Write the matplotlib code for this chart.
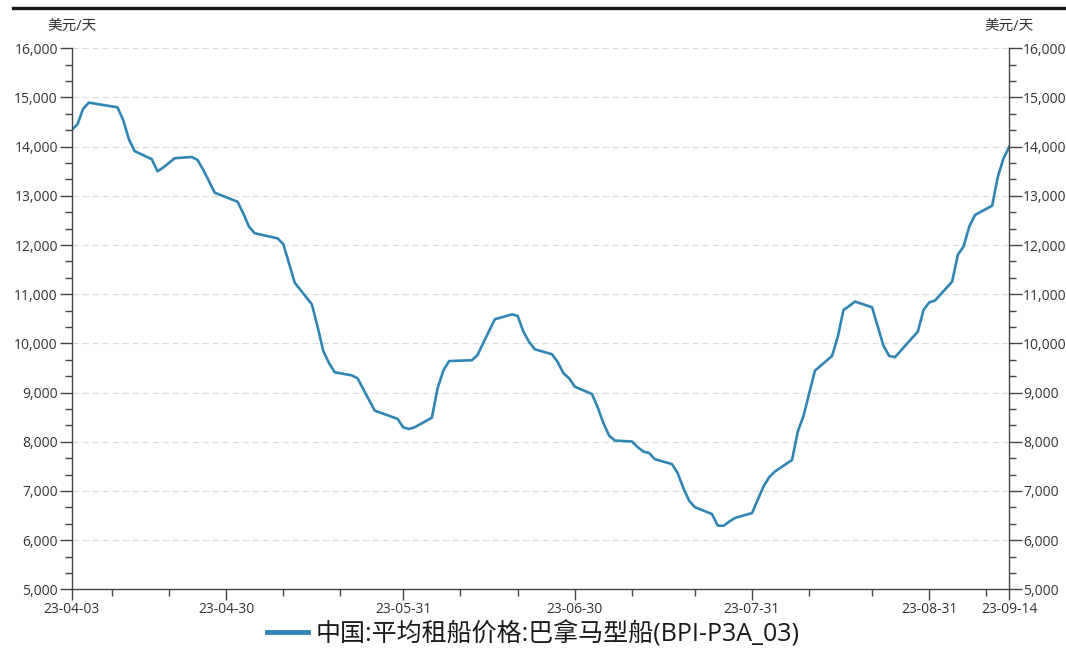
import matplotlib
matplotlib.use("Agg")
import matplotlib.pyplot as plt
import matplotlib.dates as mdates
from matplotlib.lines import Line2D
from matplotlib.ticker import MultipleLocator, FuncFormatter, FixedLocator
import pandas as pd

plt.rcParams['font.family'] = ['Open Sans', 'Noto Sans CJK SC', 'DejaVu Sans']

# BPI-P3A_03 daily hire rate, USD/day
dates = [
    "2023-04-03", "2023-04-04", "2023-04-05", "2023-04-06", "2023-04-11", "2023-04-12",
    "2023-04-13", "2023-04-14", "2023-04-17", "2023-04-18", "2023-04-19", "2023-04-21",
    "2023-04-24", "2023-04-25", "2023-04-26", "2023-04-27", "2023-04-28", "2023-05-02",
    "2023-05-03", "2023-05-04", "2023-05-05", "2023-05-09", "2023-05-10", "2023-05-11",
    "2023-05-12", "2023-05-15", "2023-05-16", "2023-05-17", "2023-05-18", "2023-05-19",
    "2023-05-22", "2023-05-23", "2023-05-24", "2023-05-25", "2023-05-26", "2023-05-30",
    "2023-05-31", "2023-06-01", "2023-06-02", "2023-06-05", "2023-06-06", "2023-06-07",
    "2023-06-08", "2023-06-09", "2023-06-12", "2023-06-13", "2023-06-14", "2023-06-15",
    "2023-06-16", "2023-06-19", "2023-06-20", "2023-06-21", "2023-06-22", "2023-06-23",
    "2023-06-26", "2023-06-27", "2023-06-28", "2023-06-29", "2023-06-30", "2023-07-03",
    "2023-07-04", "2023-07-05", "2023-07-06", "2023-07-07", "2023-07-10", "2023-07-11",
    "2023-07-12", "2023-07-13", "2023-07-14", "2023-07-17", "2023-07-18", "2023-07-19",
    "2023-07-20", "2023-07-21", "2023-07-24", "2023-07-25", "2023-07-26", "2023-07-27",
    "2023-07-28", "2023-07-31", "2023-08-01", "2023-08-02", "2023-08-03", "2023-08-04",
    "2023-08-07", "2023-08-08", "2023-08-09", "2023-08-10", "2023-08-11", "2023-08-14",
    "2023-08-15", "2023-08-16", "2023-08-17", "2023-08-18", "2023-08-21", "2023-08-22",
    "2023-08-23", "2023-08-24", "2023-08-25", "2023-08-29", "2023-08-30", "2023-08-31",
    "2023-09-01", "2023-09-04", "2023-09-05", "2023-09-06", "2023-09-07", "2023-09-08",
    "2023-09-11", "2023-09-12", "2023-09-13", "2023-09-14",
]
values = [
    14340, 14455, 14770, 14895, 14800, 14540,
    14150, 13910, 13745, 13500, 13575, 13765,
    13790, 13730, 13530, 13300, 13065, 12880,
    12645, 12375, 12240, 12135, 12020, 11630,
    11235, 10795, 10340, 9845, 9600, 9413,
    9350, 9290, 9070, 8850, 8633, 8465,
    8290, 8260, 8295, 8490, 9090, 9445,
    9640, 9645, 9657, 9765, 10015, 10250,
    10490, 10590, 10560, 10240, 10030, 9880,
    9780, 9620, 9395, 9290, 9120, 8970,
    8700, 8380, 8125, 8025, 8005, 7890,
    7800, 7770, 7645, 7545, 7360, 7055,
    6800, 6670, 6530, 6295, 6290, 6375,
    6450, 6550, 6820, 7090, 7280, 7395,
    7630, 8205, 8525, 8985, 9445, 9745,
    10135, 10680, 10760, 10850, 10735, 10340,
    9950, 9745, 9718, 10240, 10680, 10835,
    10870, 11255, 11800, 11970, 12375, 12610,
    12800, 13390, 13765, 14000,
]
series_name = "中国:平均租船价格:巴拿马型船(BPI-P3A_03)"
unit = "美元/天"
xtick_labels = ["2023-04-03", "2023-04-30", "2023-05-31", "2023-06-30",
                "2023-07-31", "2023-08-31", "2023-09-14"]
xminor = ["2023-04-10", "2023-04-20", "2023-05-10", "2023-05-20", "2023-06-10",
          "2023-06-20", "2023-07-10", "2023-07-21", "2023-08-10", "2023-08-21",
          "2023-09-10"]

x = pd.to_datetime(dates)
line_color = "#3085b5"
axis_color = "#444444"
text_color = "#333333"

fig = plt.figure(figsize=(10.66, 6.5), dpi=100)
ax = fig.add_axes([0.0673, 0.0934, 0.8795, 0.8323])

ax.plot(x, values, color=line_color, lw=1.9, solid_joinstyle="round", label=series_name)

ax.set_xlim(pd.Timestamp("2023-04-03"), pd.Timestamp("2023-09-14"))
ax.set_ylim(5000, 16000)

# x axis
ax.xaxis.set_major_locator(FixedLocator(mdates.date2num(pd.to_datetime(xtick_labels))))
ax.xaxis.set_major_formatter(mdates.DateFormatter("%y-%m-%d"))
ax.xaxis.set_minor_locator(FixedLocator(mdates.date2num(pd.to_datetime(xminor))))

# y axis, labels both sides
ax.yaxis.set_major_locator(MultipleLocator(1000))
ax.yaxis.set_minor_locator(MultipleLocator(1000 / 3))
ax.yaxis.set_major_formatter(FuncFormatter(lambda v, p: f"{int(round(v)):,}"))

ax.tick_params(axis="y", which="both", direction="out", left=True, right=True,
               labelleft=True, labelright=True, colors=axis_color, labelcolor=text_color,
               labelsize=10, pad=1)
ax.tick_params(axis="y", which="major", length=9, width=1)
ax.tick_params(axis="y", which="minor", length=5, width=1)
ax.tick_params(axis="x", which="major", length=8, width=1, colors=axis_color,
               labelcolor=text_color, labelsize=10, pad=1)
ax.tick_params(axis="x", which="minor", length=5, width=1, colors=axis_color)

for side in ["left", "right", "bottom"]:
    ax.spines[side].set_color(axis_color)
    ax.spines[side].set_linewidth(1)
ax.spines["top"].set_visible(False)

# dashed grid at each 1000
for yv in range(6000, 16001, 1000):
    ax.axhline(yv, color="#dcdcdc", lw=0.9, ls=(0, (5, 3)), zorder=0)

# unit labels over both y axes
fig.text(0.0673, 1 - 26 / 650, unit, ha="center", va="center", fontsize=10.5, color=text_color)
fig.text(0.9468, 1 - 26 / 650, unit, ha="center", va="center", fontsize=10.5, color=text_color)

# top rule
fig.add_artist(Line2D([13 / 1066, 1.0], [1 - 7.5 / 650] * 2, color="#151515", lw=2.4,
                      transform=fig.transFigure))

leg = ax.legend(loc="center", bbox_to_anchor=(0.5, 1 - 634 / 650), bbox_transform=fig.transFigure,
                frameon=False, fontsize=18, handlelength=1.65, handletextpad=0.3)
for h in leg.get_lines():
    h.set_linewidth(3.5)
for t in leg.get_texts():
    t.set_color("#1a1a1a")

fig.savefig("out.png", dpi=100)
